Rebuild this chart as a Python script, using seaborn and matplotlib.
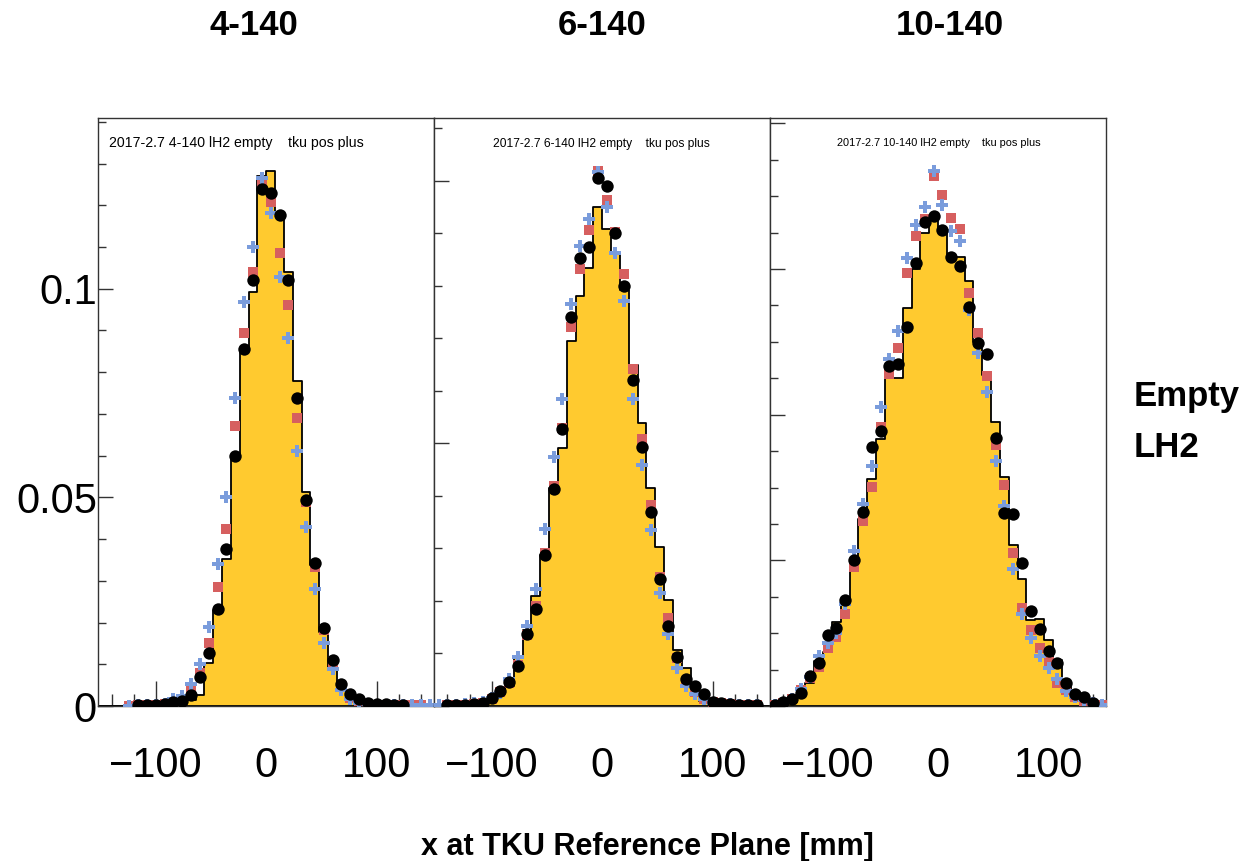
import numpy as np
import pandas as pd
import matplotlib
matplotlib.use("Agg")
import matplotlib.pyplot as plt
import seaborn as sns
from matplotlib.ticker import MultipleLocator

sns.set_theme(style="ticks")
plt.rcParams['font.family'] = ['Liberation Sans', 'DejaVu Sans']
plt.rcParams['text.color'] = 'black'
plt.rcParams['xtick.labelcolor'] = 'black'
plt.rcParams['ytick.labelcolor'] = 'black'
plt.rcParams['axes.labelcolor'] = 'black'

# ---------------- data ----------------
bin_edges = [-152, -144, -136, -128, -120, -112, -104, -96, -88, -80, -72, -64, -56, -48,
             -40, -32, -24, -16, -8, 0, 8, 16, 24, 32, 40, 48, 56, 64, 72, 80, 88, 96,
             104, 112, 120, 128, 136, 144, 152]
bin_centers = [-148, -140, -132, -124, -116, -108, -100, -92, -84, -76, -68, -60, -52, -44,
               -36, -28, -20, -12, -4, 4, 12, 20, 28, 36, 44, 52, 60, 68, 76, 84, 92, 100,
               108, 116, 124, 132, 140, 148]

panel_titles = ["4-140", "6-140", "10-140"]
panel_notes = ["2017-2.7 4-140 lH2 empty    tku pos plus",
               "2017-2.7 6-140 lH2 empty    tku pos plus",
               "2017-2.7 10-140 lH2 empty    tku pos plus"]
legend_labels = ["Empty", "LH2"]
x_axis_label = "x at TKU Reference Plane [mm]"
x_tick_values = [-100, 0, 100]
x_tick_labels = ["\u2212100", "0", "100"]
y_tick_values = [0, 0.05, 0.1]
y_tick_labels = ["0", "0.05", "0.1"]

# panel 1 (4-140)
p1_hist = [0, 0, 0, 0, 0.0001, 0.0001, 0.0002, 0.0003, 0.0005, 0.0008, 0.0015, 0.0026, 0.0102,
           0.0230, 0.0352, 0.0598, 0.0854, 0.0993, 0.1269, 0.1281, 0.1178, 0.1041, 0.0778,
           0.0514, 0.0338, 0.0178, 0.0086, 0.0038, 0.0018, 0.0008, 0.0004, 0.0002, 0.0001,
           0.0001, 0, 0, 0, 0]
p1_black = [0, 0, 0, 0, 0.0002, 0.0002, 0.0002, 0.0005, 0.0010, 0.0011, 0.0026, 0.0069, 0.0126,
            0.0232, 0.0376, 0.0598, 0.0856, 0.1021, 0.1238, 0.1229, 0.1176, 0.1020, 0.0737,
            0.0494, 0.0342, 0.0188, 0.0110, 0.0052, 0.0028, 0.0017, 0.0006, 0.0005, 0.0004,
            0.0002, 0.0002, 0, 0, 0]
p1_red = [0, 0, 0, 0.0001, 0.0002, 0.0002, 0.0002, 0.0004, 0.0007, 0.0012, 0.0042, 0.0078, 0.0152,
          0.0286, 0.0424, 0.0672, 0.0893, 0.1040, 0.1248, 0.1208, 0.1086, 0.0962, 0.0690,
          0.0488, 0.0334, 0.0182, 0.0106, 0.0046, 0.0018, 0.0012, 0.0005, 0.0003, 0.0003,
          0.0002, 0.0002, 0.0002, 0.0002, 0]
p1_blue = [0, 0, 0, 0.0001, 0.0002, 0.0002, 0.0003, 0.0005, 0.0016, 0.0024, 0.0053, 0.0101, 0.0190,
           0.0340, 0.0501, 0.0739, 0.0968, 0.1100, 0.1266, 0.1182, 0.1029, 0.0882, 0.0612,
           0.0429, 0.0280, 0.0152, 0.0088, 0.0038, 0.0017, 0.0008, 0.0004, 0.0003, 0.0002,
           0.0002, 0.0002, 0.0002, 0.0002, 0.0002]

# panel 2 (6-140)
p2_hist = [0, 0, 0.0001, 0.0001, 0.0003, 0.0005, 0.0010, 0.0022, 0.0038, 0.0093, 0.0145, 0.0210,
           0.0288, 0.0415, 0.0491, 0.0696, 0.0780, 0.0835, 0.0950, 0.0909, 0.0860, 0.0792,
           0.0650, 0.0538, 0.0415, 0.0303, 0.0202, 0.0107, 0.0072, 0.0025, 0.0010, 0.0005,
           0.0003, 0.0002, 0.0001, 0, 0, 0]
p2_black = [0, 0.0002, 0.0002, 0.0002, 0.0004, 0.0006, 0.0015, 0.0029, 0.0046, 0.0076, 0.0137,
            0.0185, 0.0288, 0.0413, 0.0527, 0.0740, 0.0853, 0.0874, 0.1006, 0.0990, 0.0900,
            0.0800, 0.0620, 0.0494, 0.0370, 0.0241, 0.0153, 0.0094, 0.0052, 0.0038, 0.0023,
            0.0008, 0.0006, 0.0004, 0.0002, 0.0002, 0.0002, 0]
p2_red = [0, 0.0001, 0.0002, 0.0002, 0.0003, 0.0006, 0.0014, 0.0027, 0.0043, 0.0078, 0.0135,
          0.0191, 0.0292, 0.0419, 0.0529, 0.0721, 0.0832, 0.0907, 0.1018, 0.0963, 0.0903,
          0.0823, 0.0642, 0.0508, 0.0383, 0.0246, 0.0167, 0.0091, 0.0044, 0.0027, 0.0013,
          0.0008, 0.0005, 0.0003, 0.0002, 0.0002, 0.0002, 0]
p2_blue = [0.0001, 0.0001, 0.0002, 0.0003, 0.0005, 0.0008, 0.0016, 0.0024, 0.0051, 0.0094, 0.0153,
           0.0222, 0.0337, 0.0474, 0.0584, 0.0766, 0.0876, 0.0927, 0.1017, 0.0950, 0.0862,
           0.0772, 0.0585, 0.0459, 0.0335, 0.0215, 0.0138, 0.0073, 0.0038, 0.0022, 0.0013,
           0.0006, 0.0004, 0.0003, 0.0002, 0.0001, 0.0001, 0]

# panel 3 (10-140)
p3_hist = [0.0001, 0.0003, 0.0006, 0.0017, 0.0032, 0.0062, 0.0074, 0.0115, 0.0146, 0.0200,
           0.0257, 0.0312, 0.0367, 0.0451, 0.0451, 0.0546, 0.0600, 0.0650, 0.0674, 0.0653,
           0.0617, 0.0617, 0.0583, 0.0500, 0.0455, 0.0390, 0.0314, 0.0221, 0.0175, 0.0118,
           0.0119, 0.0091, 0.0063, 0.0031, 0.0017, 0.0008, 0.0004, 0.0002]
p3_black = [0.0001, 0.0005, 0.0010, 0.0018, 0.0041, 0.0059, 0.0098, 0.0107, 0.0146, 0.0200,
            0.0267, 0.0355, 0.0378, 0.0467, 0.0469, 0.0520, 0.0608, 0.0664, 0.0673, 0.0653,
            0.0617, 0.0604, 0.0548, 0.0498, 0.0483, 0.0368, 0.0265, 0.0264, 0.0197, 0.0130,
            0.0106, 0.0075, 0.0059, 0.0032, 0.0017, 0.0013, 0.0004, 0]
p3_red = [0.0001, 0.0004, 0.0009, 0.0022, 0.0039, 0.0054, 0.0079, 0.0095, 0.0127, 0.0191,
          0.0254, 0.0301, 0.0383, 0.0456, 0.0492, 0.0595, 0.0645, 0.0669, 0.0728, 0.0701,
          0.0670, 0.0655, 0.0567, 0.0512, 0.0453, 0.0358, 0.0304, 0.0210, 0.0134, 0.0104,
          0.0079, 0.0060, 0.0031, 0.0022, 0.0012, 0.0007, 0.0003, 0.0001]
p3_blue = [0.0001, 0.0004, 0.0010, 0.0023, 0.0040, 0.0068, 0.0087, 0.0100, 0.0140, 0.0213,
           0.0278, 0.0329, 0.0410, 0.0477, 0.0515, 0.0615, 0.0661, 0.0685, 0.0734, 0.0688,
           0.0652, 0.0638, 0.0544, 0.0485, 0.0431, 0.0336, 0.0275, 0.0188, 0.0127, 0.0094,
           0.0069, 0.0052, 0.0037, 0.0021, 0.0013, 0.0008, 0.0004, 0.0001]

# ---------------- style ----------------
YELLOW = "#FFCA2F"
RED = "#D65F5F"
BLUE = "#7A9CDC"
BLACK = "#000000"
FRAME = "#333333"

panels = [
    dict(hist=p1_hist, black=p1_black, red=p1_red, blue=p1_blue, major=0.05, minor=0.01),
    dict(hist=p2_hist, black=p2_black, red=p2_red, blue=p2_blue, major=0.05, minor=0.01),
    dict(hist=p3_hist, black=p3_black, red=p3_red, blue=p3_blue, major=0.02, minor=0.005),
]
note_pos = [(109, 146.7, 'left', 10.15), (601.3, 146.7, 'center', 8.65), (939, 145.7, 'center', 7.95)]
title_pos = [254, 602, 949.5]

W, H = 1243, 861
fig = plt.figure(figsize=(W / 100, H / 100), dpi=100)
gs = fig.add_gridspec(1, 3, left=98.3 / W, right=1106 / W, bottom=1 - 706 / H, top=1 - 118 / H,
                      wspace=0)


def points(ax, vals, marker, color, size):
    df = pd.DataFrame({"x": bin_centers, "y": vals})
    df = df[df["y"] > 0]
    sns.scatterplot(data=df, x="x", y="y", marker=marker, color=color, s=size,
                    linewidth=0, ax=ax, zorder=3, legend=False)


for i, p in enumerate(panels):
    ax = fig.add_subplot(gs[0, i])
    sns.histplot(x=bin_centers, weights=p["hist"], bins=bin_edges, element="step", fill=True,
                 color=YELLOW, alpha=1, edgecolor="black", linewidth=1.3, ax=ax, zorder=1)
    points(ax, p["red"], "s", RED, 42)
    points(ax, p["blue"], "P", BLUE, 75)
    points(ax, p["black"], "o", BLACK, 80)

    ymax = 1.1 * max(max(p["hist"]), max(p["black"]), max(p["red"]), max(p["blue"]))
    ax.set_xlim(bin_edges[0], bin_edges[-1])
    ax.set_ylim(0, ymax)
    ax.set_xlabel("")
    ax.set_ylabel("")

    ax.set_xticks(x_tick_values, labels=x_tick_labels)
    ax.xaxis.set_minor_locator(MultipleLocator(20))
    ax.tick_params(axis="x", which="major", direction="in", length=18, width=1,
                   color=FRAME, labelsize=30, pad=29, labelcolor="black")
    ax.tick_params(axis="x", which="minor", direction="in", length=9, width=1, color=FRAME)

    if i == 0:
        ax.set_yticks(y_tick_values, labels=y_tick_labels)
        ax.tick_params(axis="y", which="major", labelsize=30, pad=1, labelcolor="black")
    else:
        ax.yaxis.set_major_locator(MultipleLocator(p["major"]))
        ax.tick_params(axis="y", which="major", labelleft=False)
    ax.yaxis.set_minor_locator(MultipleLocator(p["minor"]))
    ax.tick_params(axis="y", which="major", direction="in", length=11, width=1, color=FRAME)
    ax.tick_params(axis="y", which="minor", direction="in", length=6, width=1, color=FRAME)
    ax.set_ylim(0, ymax)

    for s in ax.spines.values():
        s.set_visible(True)
        s.set_color(FRAME)
        s.set_linewidth(1)

    nx, ny, ha, fs = note_pos[i]
    fig.text(nx / W, 1 - ny / H, panel_notes[i], ha=ha, va="baseline", fontsize=fs,
             color="black")
    fig.text(title_pos[i] / W, 1 - 35 / H, panel_titles[i], ha="center", va="baseline",
             fontsize=25, fontweight="bold", color="black")

fig.text(1134 / W, 1 - 406 / H, legend_labels[0], ha="left", va="baseline", fontsize=25,
         fontweight="bold", color="black")
fig.text(1134 / W, 1 - 456.7 / H, legend_labels[1], ha="left", va="baseline", fontsize=25,
         fontweight="bold", color="black")
fig.text(647 / W, 1 - 855 / H, x_axis_label, ha="center", va="baseline", fontsize=22,
         fontweight="bold", color="black")

fig.savefig("out.png", dpi=100, facecolor="white")
